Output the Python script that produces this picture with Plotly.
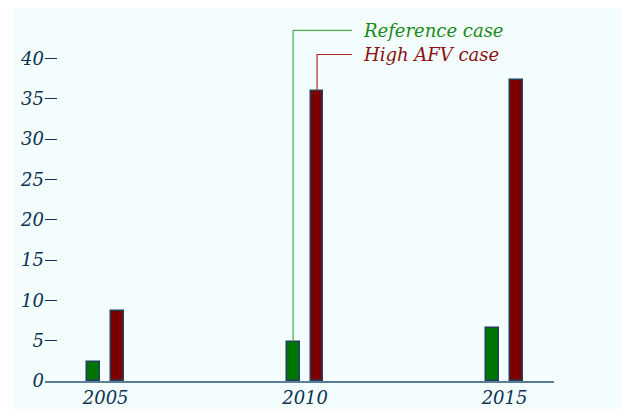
import plotly.graph_objects as go

years = [2005, 2010, 2015]
reference_case = [2.4, 4.9, 6.6]
high_afv_case = [8.7, 36.0, 37.3]
series_names = ["Reference case", "High AFV case"]
y_ticks = [0, 5, 10, 15, 20, 25, 30, 35, 40]

# styling
GREEN_FILL = "#007400"
RED_FILL = "#7c0000"
OUTLINE = "#1f3f5f"
BG = "#f4fdfd"
TXT = "#0f3252"
FONT = "DejaVu Serif"
BAR_W = 0.32
OFFSETS = [-0.46, 0.14]
LABEL_Y = [43.5, 40.5]          # label heights (layout)
LABEL_X_LINE_END = 2011.18
LABEL_X_TEXT = 2011.4
LINE_COLORS = ["#4aac4a", "#b02a2a"]
TEXT_COLORS = ["#1a8a1a", "#8b1010"]

fig = go.Figure()
for name, vals, fill, off in zip(series_names, [reference_case, high_afv_case],
                                 [GREEN_FILL, RED_FILL], OFFSETS):
    fig.add_bar(x=years, y=vals, name=name, width=BAR_W, offset=off,
                marker=dict(color=fill, line=dict(color=OUTLINE, width=1.5)))

# leader lines to the middle-year bars
mid = 1
for i, vals in enumerate([reference_case, high_afv_case]):
    xc = years[mid] + OFFSETS[i] + BAR_W / 2
    fig.add_shape(type="path",
                  path=f"M {xc} {vals[mid]} L {xc} {LABEL_Y[i]} L {LABEL_X_LINE_END} {LABEL_Y[i]}",
                  xref="x", yref="y", line=dict(color=LINE_COLORS[i], width=1.2))
    fig.add_annotation(x=LABEL_X_TEXT, y=LABEL_Y[i], xref="x", yref="y",
                       text=f"<i>{series_names[i]}</i>", showarrow=False,
                       xanchor="left", yanchor="middle",
                       font=dict(family=FONT, size=18, color=TEXT_COLORS[i]))

# light background area
fig.add_shape(type="rect", xref="paper", yref="paper", x0=-0.0629, x1=1.3,
              y0=-0.3, y1=1.2, fillcolor=BG, line=dict(width=0), layer="below")

fig.update_layout(
    width=629, height=409,
    margin=dict(l=37, r=83, t=7, b=36),
    paper_bgcolor="white", plot_bgcolor=BG,
    showlegend=False,
    font=dict(family=FONT, size=18, color=TXT),
    bargap=0,
)
fig.update_xaxes(range=[2003.48, 2016.24], tickvals=years,
                 ticktext=[f"<i>{y}</i>" for y in years],
                 showgrid=False, zeroline=False, showline=True,
                 linecolor="#5b7d95", linewidth=1.5, ticks="")
fig.update_yaxes(range=[0, 45.4], tickvals=y_ticks,
                 ticktext=[f"<i>{v}</i>" for v in y_ticks],
                 showgrid=False, zeroline=False, showline=False,
                 ticks="inside", ticklen=12, tickwidth=1.3, tickcolor=TXT)

fig.write_html("out.html")
